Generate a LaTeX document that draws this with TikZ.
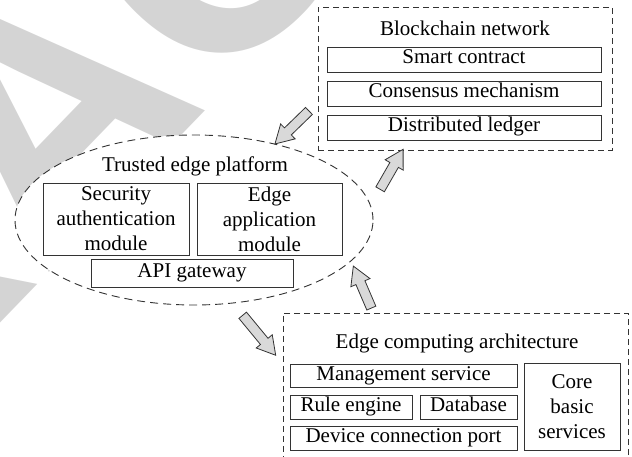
\documentclass[tikz,border=0pt]{standalone}
\usepackage{fontspec}
\setmainfont{Liberation Serif}
\newfontfamily\wmfont{Liberation Sans}
\usetikzlibrary{shapes.geometric,shapes.arrows,calc}
\definecolor{wmgray}{HTML}{D4D4D4}
\definecolor{linec}{HTML}{333333}
\definecolor{arrfill}{HTML}{D9D9D9}
\tikzset{
 box/.style={draw=linec, line width=0.9pt, rectangle, inner sep=0pt, fill=white, text height=13pt, text depth=4pt},
 mbox/.style={draw=linec, line width=0.9pt, rectangle, inner sep=0pt, fill=white, align=center},
 dbox/.style={draw=linec, line width=0.9pt, dash pattern=on 6pt off 4pt, fill=white, inner sep=0pt, rectangle},
 titletext/.style={anchor=base, inner sep=0pt},
 blockarr/.style={single arrow, draw=linec, fill=arrfill, line width=0.8pt, inner xsep=0pt, inner ysep=4.5pt, minimum width=0pt, single arrow head extend=5.5pt, single arrow tip angle=60},
 wm/.style={rotate=46, text=wmgray, inner sep=0pt, font=\wmfont\bfseries\fontsize{335}{335}\selectfont},
}
\newcommand{\blkarrow}[3]{%
  \path let \p1=($(#3)-(#2)$), \n1={atan2(\y1,\x1)}, \n2={veclen(\x1,\y1)} in
    node[blockarr, rotate=\n1, minimum height=\n2] (#1) at ($(#2)!0.5!(#3)$) {};}
\begin{document}
\begin{tikzpicture}[x=1pt, y=-1pt, font=\fontsize{21}{25}\selectfont]
\useasboundingbox (0,0) rectangle (632,457);
\clip (0,0) rectangle (632,457);
% watermark
\coordinate (wmp) at (43,279);
\node[wm, anchor=base east] (wm1) at (wmp) {RETR};
\node[wm, anchor=base west] (wm2) at (wmp) {ACTED};
% Blockchain network
\node[dbox, minimum width=294pt, minimum height=143pt] (bc) at (465,78.5) {};
\node[titletext] (bct) at (465,36) {Blockchain network};
\node[box, minimum width=274pt, minimum height=25pt] (sc) at (464,59.5) {Smart contract};
\node[box, minimum width=274pt, minimum height=25pt] (cm) at (464,93.5) {Consensus mechanism};
\node[box, minimum width=274pt, minimum height=25pt] (dl) at (464,127.5) {Distributed ledger};
% Trusted edge platform
\node[ellipse, draw=linec, line width=0.9pt, dash pattern=on 8pt off 5pt, fill=white, minimum width=358pt, minimum height=170pt, inner sep=0pt] (tep) at (194,220) {};
\node[titletext] (tept) at (195,172) {Trusted edge platform};
\node[mbox, minimum width=146pt, minimum height=72pt] (sam) at (116,219) {Security\\authentication\\module};
\node[mbox, minimum width=145pt, minimum height=72pt] (eam) at (269.5,219) {Edge\\application\\module};
\node[box, minimum width=202pt, minimum height=28pt] (api) at (192,273) {API gateway};
% Edge computing architecture
\node[dbox, minimum width=345pt, minimum height=157pt] (eca) at (455.5,391.5) {};
\node[titletext] (ecat) at (457,348) {Edge computing architecture};
\node[box, minimum width=227pt, minimum height=23pt] (ms) at (403.5,375.5) {Management service};
\node[box, minimum width=122pt, minimum height=24pt] (re) at (351,407) {Rule engine};
\node[box, minimum width=97pt, minimum height=24pt] (db) at (468.5,407) {Database};
\node[box, minimum width=227pt, minimum height=24pt] (dcp) at (403.5,438) {Device connection port};
\node[mbox, minimum width=96pt, minimum height=87pt] (cbs) at (572,406.5) {Core\\basic\\services};
% arrows
\coordinate (a1s) at (312,108); \coordinate (a1e) at (278,141);
\coordinate (a2s) at (378,193); \coordinate (a2e) at (401,153);
\coordinate (a3s) at (240,312); \coordinate (a3e) at (273,352);
\coordinate (a4s) at (373,312); \coordinate (a4e) at (355,270);
\blkarrow{arr1}{a1s}{a1e}
\blkarrow{arr2}{a2s}{a2e}
\blkarrow{arr3}{a3s}{a3e}
\blkarrow{arr4}{a4s}{a4e}
\end{tikzpicture}
\end{document}
